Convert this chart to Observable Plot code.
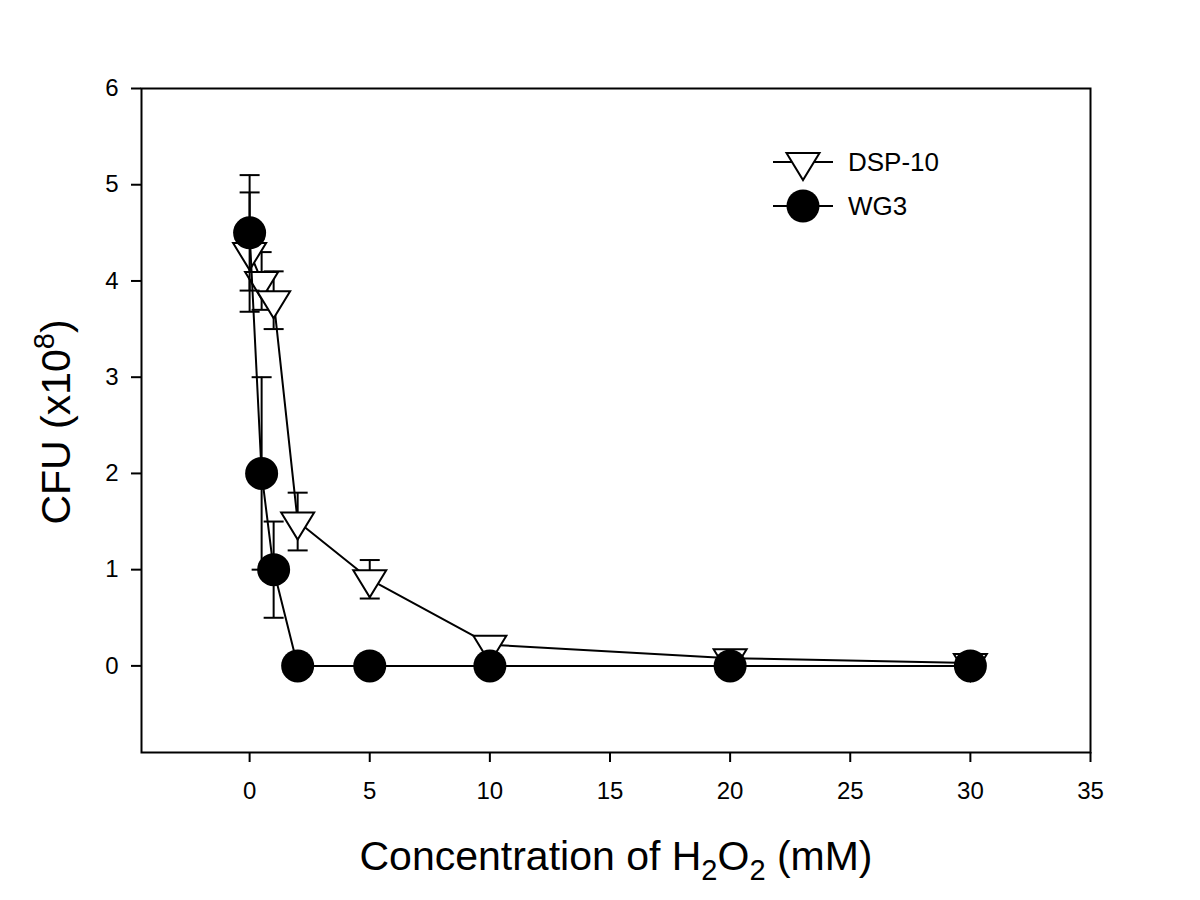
<!DOCTYPE html>
<html>
<head>
<meta charset="utf-8">
<script src="https://cdn.jsdelivr.net/npm/d3@7"></script>
<script src="https://cdn.jsdelivr.net/npm/@observablehq/plot@0.6"></script>
<style>
  html, body { margin: 0; padding: 0; background: #fff; }
  #chart svg { display: block; }
</style>
</head>
<body>
<div id="chart"></div>
<script>
// ---- data ----
const conc = [0, 0.5, 1, 2, 5, 10, 20, 30];            // H2O2 concentration (mM)
const dsp10 = [4.3, 4.0, 3.8, 1.5, 0.9, 0.22, 0.08, 0.03];
const dsp10Err = [0.62, 0.3, 0.3, 0.3, 0.2, 0, 0, 0];
const wg3 = [4.5, 2.0, 1.0, 0, 0, 0, 0, 0];
const wg3Err = [0.6, 1.0, 0.5, 0, 0, 0, 0, 0];
const xTicks = [0, 5, 10, 15, 20, 25, 30, 35];
const yTicks = [0, 1, 2, 3, 4, 5, 6];
const seriesNames = ["DSP-10", "WG3"];

const dspData = conc.map((c, i) => ({x: c, y: dsp10[i], e: dsp10Err[i]}));
const wgData = conc.map((c, i) => ({x: c, y: wg3[i], e: wg3Err[i]}));
const dspErr = dspData.filter(d => d.e > 0);
const wgErr = wgData.filter(d => d.e > 0);

// custom symbols
const triDown = {
  draw(ctx, size) {
    const r = Math.sqrt(size / Math.PI);
    const h1 = r * 9 / 16.5, h2 = r * 18 / 16.5;
    ctx.moveTo(-r, -h1); ctx.lineTo(r, -h1); ctx.lineTo(0, h2); ctx.closePath();
  }
};
const cap = {
  draw(ctx, size) {
    const r = Math.sqrt(size / Math.PI);
    ctx.moveTo(-r, 0); ctx.lineTo(r, 0);
  }
};

const SW = 2;
const font = "'Liberation Sans', Arial, sans-serif";

const chart = Plot.plot({
  width: 1200,
  height: 900,
  marginLeft: 141,
  marginRight: 110,
  marginTop: 88,
  marginBottom: 148,
  style: {fontFamily: font, color: "#000", background: "#fff"},
  x: {domain: [-4.5, 35]},
  y: {domain: [-0.9, 6]},
  marks: [
    Plot.axisX({ticks: xTicks, tickSize: 10, tickFormat: () => "", label: null, strokeWidth: 2}),
    Plot.axisY({ticks: yTicks, tickSize: 10, tickFormat: () => "", label: null, strokeWidth: 2}),
    Plot.text(xTicks, {x: d => d, text: d => String(d), frameAnchor: "bottom", dy: 39,
      lineAnchor: "middle", fontSize: 24, fill: "#000"}),
    Plot.text(yTicks, {y: d => d, text: d => String(d), frameAnchor: "left", dx: -23,
      textAnchor: "end", fontSize: 24, fill: "#000"}),
    // DSP-10
    Plot.line(dspData, {x: "x", y: "y", stroke: "#000", strokeWidth: SW}),
    Plot.ruleX(dspErr, {x: "x", y1: d => d.y - d.e, y2: d => d.y + d.e, stroke: "#000", strokeWidth: SW}),
    Plot.dot(dspErr, {x: "x", y: d => d.y + d.e, symbol: cap, r: 10, stroke: "#000", strokeWidth: SW, fill: "none"}),
    Plot.dot(dspErr, {x: "x", y: d => d.y - d.e, symbol: cap, r: 10, stroke: "#000", strokeWidth: SW, fill: "none"}),
    Plot.dot(dspData, {x: "x", y: "y", symbol: triDown, r: 16.5, stroke: "#000", strokeWidth: 2, fill: "#fff"}),
    // WG3
    Plot.line(wgData, {x: "x", y: "y", stroke: "#000", strokeWidth: SW}),
    Plot.ruleX(wgErr, {x: "x", y1: d => d.y - d.e, y2: d => d.y + d.e, stroke: "#000", strokeWidth: SW}),
    Plot.dot(wgErr, {x: "x", y: d => d.y + d.e, symbol: cap, r: 10, stroke: "#000", strokeWidth: SW, fill: "none"}),
    Plot.dot(wgErr, {x: "x", y: d => d.y - d.e, symbol: cap, r: 10, stroke: "#000", strokeWidth: SW, fill: "none"}),
    Plot.dot(wgData, {x: "x", y: "y", symbol: "circle", r: 16.5, fill: "#000", stroke: "none"}),
    Plot.frame({stroke: "#000", strokeWidth: 2})
  ]
});
document.getElementById("chart").appendChild(chart);

const svg = d3.select(chart);

// ---- axis titles with sub/superscripts ----
const xt = svg.append("text")
  .attr("x", 616).attr("y", 870)
  .attr("text-anchor", "middle")
  .attr("font-family", font).attr("font-size", 41).attr("fill", "#000");
xt.append("tspan").text("Concentration of H");
xt.append("tspan").attr("dy", 10).attr("font-size", 29).text("2");
xt.append("tspan").attr("dy", -10).text("O");
xt.append("tspan").attr("dy", 10).attr("font-size", 29).text("2");
xt.append("tspan").attr("dy", -10).text(" (mM)");

const yt = svg.append("text")
  .attr("transform", "translate(70,422) rotate(-90)")
  .attr("text-anchor", "middle")
  .attr("font-family", font).attr("font-size", 41).attr("fill", "#000");
yt.append("tspan").text("CFU (x10");
yt.append("tspan").attr("dy", -16).attr("font-size", 29).text("8");
yt.append("tspan").attr("dy", 16).text(")");

// ---- legend ----
const leg = svg.append("g").attr("font-family", font).attr("font-size", 26).attr("fill", "#000");
const legRows = [{name: seriesNames[0], y: 162, sym: "tri"}, {name: seriesNames[1], y: 206, sym: "circ"}];
legRows.forEach(r => {
  leg.append("line").attr("x1", 773).attr("x2", 833).attr("y1", r.y).attr("y2", r.y)
    .attr("stroke", "#000").attr("stroke-width", SW);
  if (r.sym === "tri") {
    leg.append("path").attr("d", "M786.5,153 L819.5,153 L803,180 Z")
      .attr("fill", "#fff").attr("stroke", "#000").attr("stroke-width", 2);
  } else {
    leg.append("circle").attr("cx", 803).attr("cy", r.y).attr("r", 16.5).attr("fill", "#000");
  }
  leg.append("text").attr("x", 848).attr("y", r.y).attr("dy", "0.36em")
    .attr("text-anchor", "start").text(r.name);
});
</script>
</body>
</html>
